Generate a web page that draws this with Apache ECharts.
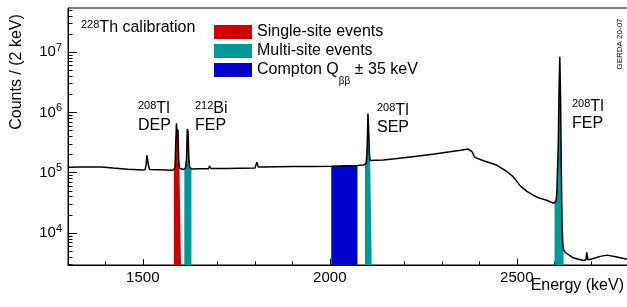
<!DOCTYPE html>
<html>
<head>
<meta charset="utf-8">
<script src="https://cdn.jsdelivr.net/npm/echarts@6/dist/echarts.min.js"></script>
<style>
html, body { margin: 0; padding: 0; background: #fff; }
#main { width: 627px; height: 307px; }
</style>
</head>
<body>
<div id="main"></div>
<script>
// spectrum (energy in keV, counts / 2 keV)
var energy = [1300, 1330, 1360, 1390, 1420, 1460, 1500, 1506, 1509, 1511, 1513, 1515, 1518, 1540, 1565, 1580,
	1583, 1586, 1588, 1590, 1592, 1594, 1596, 1598, 1602, 1607, 1611, 1615, 1617, 1619, 1621, 1623, 1625, 1630,
	1650, 1676, 1678, 1680, 1682, 1720, 1760, 1800, 1803, 1805, 1807, 1809, 1820, 1860, 1900, 1950,
	2004, 2040, 2074, 2090, 2094, 2098, 2100, 2102, 2104, 2106, 2108, 2112, 2143, 2180, 2232, 2280, 2321,
	2350, 2370, 2380, 2388, 2411, 2446, 2473, 2490, 2500, 2510, 2527, 2545, 2560, 2580, 2598,
	2601, 2605, 2607, 2609, 2611, 2613, 2615, 2617, 2619, 2621, 2623, 2625, 2629, 2650, 2678, 2685, 2687,
	2690, 2700, 2723, 2741, 2768, 2800];
var counts = [1.23e5, 1.24e5, 1.24e5, 1.25e5, 1.2e5, 1.14e5, 1.11e5, 1.12e5, 1.35e5, 1.95e5, 2.0e5, 1.35e5, 1.13e5, 1.12e5, 1.11e5, 1.10e5,
	1.11e5, 1.2e5, 3.0e5, 6.6e5, 4.0e5, 5.2e5, 1.6e5, 1.2e5, 1.13e5, 1.13e5, 1.14e5, 1.2e5, 1.8e5, 5.3e5, 4.8e5, 1.8e5, 1.25e5, 1.15e5,
	1.16e5, 1.17e5, 1.3e5, 1.38e5, 1.18e5, 1.18e5, 1.19e5, 1.2e5, 1.22e5, 1.5e5, 1.56e5, 1.24e5, 1.25e5, 1.26e5, 1.27e5, 1.27e5,
	1.28e5, 1.3e5, 1.32e5, 1.34e5, 1.35e5, 1.45e5, 2.8e5, 9.6e5, 5.0e5, 2.0e5, 1.6e5, 1.52e5, 1.62e5, 1.72e5, 1.88e5, 2.05e5, 2.22e5,
	2.36e5, 2.47e5, 2.25e5, 1.8e5, 1.58e5, 1.34e5, 1.05e5, 8.6e4, 7.2e4, 6.0e4, 4.9e4, 4.2e4, 3.8e4, 3.5e4, 3.1e4,
	3.1e4, 3.4e4, 4.6e4, 1.2e5, 3.1e5, 2.5e6, 8.4e6, 1.8e6, 1.2e5, 1.4e4, 6.5e3, 5.3e3, 4.8e3, 3.9e3, 3.5e3, 3.6e3, 4.8e3,
	3.6e3, 3.7e3, 4.1e3, 4.3e3, 4.0e3, 3.6e3];

// energy windows
var singleSite = [[1583, 1602]];
var multiSite = [[1611, 1630], [2094, 2112], [2601, 2625]];
var compton = [[2004, 2074]];

var xMajor = [1500, 2000, 2500];
var xMinor = [1300, 1400, 1600, 1700, 1800, 1900, 2100, 2200, 2300, 2400, 2600, 2700, 2800];
var yMajor = [1e4, 1e5, 1e6, 1e7];

var nameSingle = 'Single-site events';
var nameMulti = 'Multi-site events';
var nameCompton = 'Compton Qββ ± 35 keV';

var font = '"Liberation Sans", Arial, Helvetica, sans-serif';

var yMinor = [];
for (var d = 1e3; d < 1e8; d *= 10) {
	for (var m = 2; m <= 9; m++) {
		var v = m * d;
		if (v >= 2950 && v <= 5.4e7) yMinor.push(v);
	}
}

var spectrum = [];
for (var i = 0; i < energy.length; i++) {
	spectrum.push([energy[i], counts[i]]);
}

function bandData(lo, hi) {
	var out = [];
	for (var i = 0; i < spectrum.length; i++) {
		if (spectrum[i][0] >= lo && spectrum[i][0] <= hi) out.push(spectrum[i]);
	}
	return out;
}

function bandSeries(name, color, ranges) {
	return ranges.map(function(r) {
		return {
			name : name,
			type : 'line',
			data : bandData(r[0], r[1]),
			symbol : 'none',
			color : color,
			itemStyle : { color : color },
			lineStyle : { width : 0, color : color },
			areaStyle : { color : color, opacity : 1, origin : 'start' },
			silent : true,
			z : 2
		};
	});
}

var supRich = {
	s : { fontSize : 11, fontFamily : font, lineHeight : 9, verticalAlign : 'top', color : '#000' }
};

var chart = echarts.init(document.getElementById('main'), null, { renderer : 'canvas' });

var series = [].concat(
	bandSeries(nameSingle, '#cc0000', singleSite),
	bandSeries(nameMulti, '#009999', multiSite),
	bandSeries(nameCompton, '#0000cc', compton),
	[{
		name : 'spectrum',
		type : 'line',
		data : spectrum,
		symbol : 'none',
		color : '#000',
		lineStyle : { color : '#000', width : 1.5 },
		silent : true,
		z : 5
	}]
);

var option = {
	animation : false,
	grid : {
		left : 68, right : -2, top : 8, bottom : 42,
		show : true, borderColor : '#000', borderWidth : 1,
		outerBoundsMode : 'none'
	},
	legend : {
		data : [nameSingle, nameMulti, nameCompton],
		orient : 'vertical',
		left : 209, top : 11,
		itemWidth : 38, itemHeight : 14, itemGap : -13,
		icon : 'rect',
		selectedMode : false,
		textStyle : {
			fontFamily : font, fontSize : 16, color : '#000', lineHeight : 32,
			rich : {
				sub : { fontSize : 10, fontFamily : font, lineHeight : 10, verticalAlign : 'bottom', color : '#000' }
			}
		},
		formatter : function(name) {
			if (name === nameCompton) return 'Compton Q{sub|ββ} ± 35 keV';
			return name;
		}
	},
	xAxis : [{
		type : 'value', min : 1300, max : 2800,
		splitLine : { show : false },
		axisLine : { lineStyle : { color : '#000', width : 1 } },
		axisTick : { inside : true, length : 6, customValues : xMajor, lineStyle : { color : '#000' } },
		axisLabel : {
			customValues : xMajor, color : '#000', fontSize : 15, fontFamily : font, margin : 5,
			formatter : function(val) { return String(val); }
		}
	}, {
		type : 'value', min : 1300, max : 2800, position : 'bottom',
		splitLine : { show : false },
		axisLine : { show : false },
		axisTick : { inside : true, length : 3.5, customValues : xMinor, lineStyle : { color : '#000' } },
		axisLabel : { show : false }
	}],
	yAxis : [{
		type : 'log', min : 2950, max : 5.4e7,
		splitLine : { show : false },
		axisLine : { show : true, lineStyle : { color : '#000', width : 1 } },
		axisTick : { show : true, inside : true, length : 9, customValues : yMajor, lineStyle : { color : '#000' } },
		axisLabel : {
			customValues : yMajor, color : '#000', margin : 6,
			formatter : function(val) {
				return '{b|10}{e|' + Math.round(Math.log(val) / Math.LN10) + '}';
			},
			rich : {
				b : { fontSize : 15, fontFamily : font, lineHeight : 20, color : '#000' },
				e : { fontSize : 11, fontFamily : font, lineHeight : 9, verticalAlign : 'top', color : '#000' }
			}
		}
	}, {
		type : 'log', min : 2950, max : 5.4e7, position : 'left',
		splitLine : { show : false },
		axisLine : { show : false },
		axisTick : { show : true, inside : true, length : 4.5, customValues : yMinor, lineStyle : { color : '#000' } },
		axisLabel : { show : false }
	}],
	graphic : [{
		type : 'text', left : 81, top : 19,
		style : { text : '{s|228}Th calibration', fontSize : 16, fontFamily : font, lineHeight : 17, fill : '#000', rich : supRich }
	}, {
		type : 'text', left : 138, top : 100,
		style : { text : '{s|208}Tl\nDEP', fontSize : 16, fontFamily : font, lineHeight : 17, fill : '#000', rich : supRich }
	}, {
		type : 'text', left : 195, top : 100,
		style : { text : '{s|212}Bi\nFEP', fontSize : 16, fontFamily : font, lineHeight : 17, fill : '#000', rich : supRich }
	}, {
		type : 'text', left : 377, top : 102,
		style : { text : '{s|208}Tl\nSEP', fontSize : 16, fontFamily : font, lineHeight : 17, fill : '#000', rich : supRich }
	}, {
		type : 'text', left : 572, top : 98,
		style : { text : '{s|208}Tl\nFEP', fontSize : 16, fontFamily : font, lineHeight : 17, fill : '#000', rich : supRich }
	}, {
		type : 'text', x : 17, y : 72, rotation : Math.PI / 2,
		style : { text : 'Counts / (2 keV)', fontSize : 16, fontFamily : font, fill : '#000', align : 'center', verticalAlign : 'middle' }
	}, {
		type : 'text', x : 620, y : 44, rotation : Math.PI / 2,
		style : { text : 'GERDA 20-07', fontSize : 8, fontFamily : font, fill : '#000', align : 'center', verticalAlign : 'middle' }
	}, {
		type : 'text', right : 3, top : 278,
		style : { text : 'Energy (keV)', fontSize : 16, fontFamily : font, fill : '#000' }
	}],
	series : series
};

chart.setOption(option);
</script>
</body>
</html>
